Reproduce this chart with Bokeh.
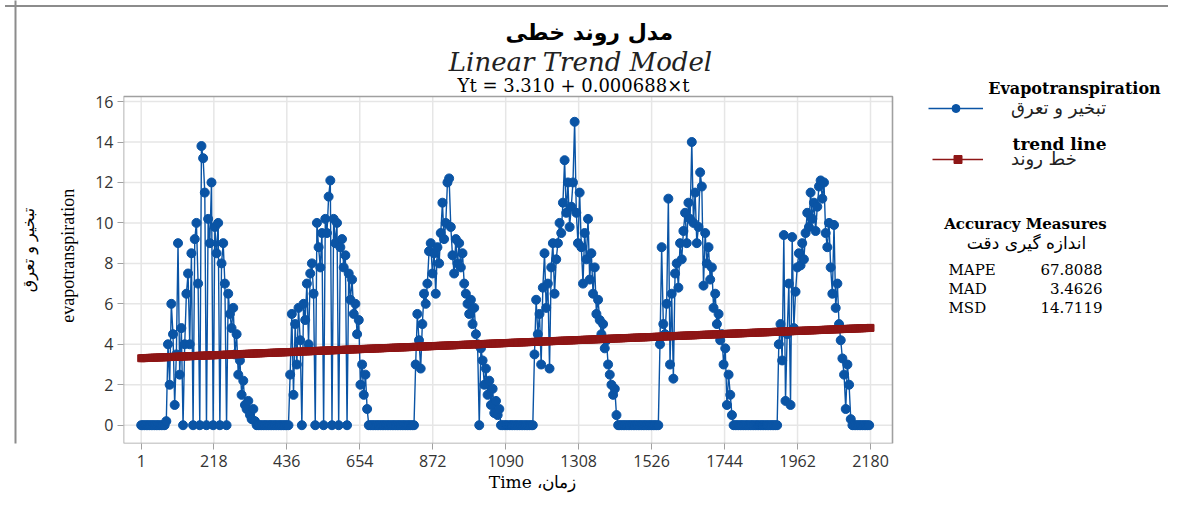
import math
from bokeh.plotting import figure
from bokeh.models import Range1d, Label, Legend, LegendItem, LinearAxis, FixedTicker
from bokeh.embed import file_html
from bokeh.resources import INLINE

day_step = 5
last_day = 2176
season_start = [76, 441, 816, 1166, 1536, 1896]

season1 = [0.2, 4.0, 2.0, 6.0, 4.5, 1.0, 3.5, 9.0, 2.5, 4.8,
           0.0, 4.0, 6.5, 7.5, 4.0, 8.5, 0.0, 9.2, 10.0, 7.0,
           0.0, 13.8, 13.2, 11.5, 0.0, 10.2, 9.0, 12.0, 0.0, 9.8,
           8.5, 10.0, 0.0, 8.0, 9.0, 7.0, 0.0, 6.5, 5.5, 4.8,
           5.8, 3.5, 4.5, 2.5, 3.2, 1.5, 2.2, 1.0, 0.8, 1.2,
           0.5, 0.3, 0.8, 0.2, 0.0]
season2 = [0.0, 2.5, 5.5, 1.5, 5.0, 3.0, 5.8, 4.2, 0.0, 6.0,
           5.2, 7.0, 4.0, 7.5, 8.0, 6.5, 0.0, 10.0, 8.8, 7.8,
           9.5, 0.0, 10.2, 9.5, 11.3, 12.1, 0.0, 10.2, 9.0, 10.0,
           0.0, 8.8, 9.2, 7.8, 8.4, 0.0, 7.5, 6.2, 7.2, 5.5,
           6.0, 4.5, 5.2, 2.0, 3.0, 1.5, 2.5, 0.8, 0.0]
season3 = [0.0, 3.0, 5.5, 4.2, 2.8, 5.0, 6.5, 6.0, 7.0, 8.6,
           9.0, 7.5, 8.5, 6.5, 8.8, 8.0, 9.5, 11.0, 9.2, 10.0,
           12.0, 12.2, 9.8, 8.4, 7.5, 9.2, 8.0, 9.0, 7.8, 8.5,
           7.0, 6.5, 6.0, 5.5, 6.2, 5.0, 5.8, 4.5, 4.0, 0.0,
           3.8, 3.2, 2.0, 2.8, 1.5, 2.2, 1.0, 1.8, 0.6, 1.2,
           0.5, 0.8, 0.0]
season4 = [0.0, 0.0, 3.5, 6.2, 4.5, 5.5, 3.0, 6.8, 8.5, 5.8,
           7.0, 2.8, 7.8, 9.0, 6.5, 8.2, 9.0, 10.0, 9.5, 11.0,
           13.1, 10.5, 12.0, 9.8, 10.8, 12.0, 15.0, 10.5, 9.0, 11.5,
           8.8, 7.0, 9.5, 8.2, 10.2, 7.2, 8.5, 6.5, 7.8, 5.5,
           6.2, 5.2, 4.5, 5.0, 3.8, 4.2, 3.0, 2.5, 2.0, 1.5,
           1.8, 0.5, 0.0]
season5 = [0.0, 0.0, 0.0, 4.0, 8.8, 5.0, 4.5, 6.0, 11.2, 3.0,
           6.5, 2.3, 7.5, 8.0, 6.8, 9.0, 8.2, 9.6, 10.5, 9.0,
           11.0, 10.2, 14.0, 10.0, 11.5, 9.0, 9.8, 12.5, 11.8, 6.9,
           9.5, 8.0, 8.8, 7.2, 7.8, 5.8, 6.5, 5.0, 5.5, 4.2,
           4.5, 3.0, 3.8, 1.0, 2.5, 1.5, 0.5, 0.0]
season6 = [0.0, 0.0, 4.0, 5.0, 3.2, 9.4, 1.2, 4.5, 7.0, 1.0,
           9.3, 4.8, 6.6, 7.8, 8.5, 7.9, 9.0, 8.2, 9.5, 10.5,
           9.8, 11.5, 10.2, 11.0, 9.6, 10.8, 11.8, 12.1, 11.2, 12.0,
           9.5, 8.8, 10.0, 7.8, 6.5, 9.9, 5.8, 7.0, 5.0, 4.2,
           3.3, 2.5, 0.8, 3.0, 2.0, 0.3, 0.0]
seasons = [season1, season2, season3, season4, season5, season6]

x_ticks = [1, 218, 436, 654, 872, 1090, 1308, 1526, 1744, 1962, 2180]
y_ticks = [0, 2, 4, 6, 8, 10, 12, 14, 16]

trend_intercept = 3.310
trend_slope = 0.000688

accuracy_names = ["MAPE", "MAD", "MSD"]
accuracy_values = ["67.8088", "3.4626", "14.7119"]

# off-season days are read as 0
days = list(range(1, last_day + 1, day_step))
evap = [0.0] * len(days)
for start, vals in zip(season_start, seasons):
    i0 = (start - 1) // day_step
    for k, v in enumerate(vals):
        evap[i0 + k] = v
trend_days = days + [2180]
trend_fit = [trend_intercept + trend_slope * d for d in trend_days]

# ---------------- layout ----------------
BLUE = "#0A54A5"
RED = "#8E1616"
GRID = "#E6E6E6"
FRAME = "#A0A0A0"
SERIF = "DejaVu Serif"
NBSP = "\u00a0"
W, H = 1168, 496
L, R, T, B = 123, 892, 96, 443          # visible plot box (px)
XS, XE = -51.9, 2245.7                   # data extent of the plot box
YS, YE = -0.905, 16.25
SX = (R - L) / (XE - XS)
SY = (B - T) / (YE - YS)
XF = XS + (W - L) / SX                   # frame reaches the right edge
YF = YS + B / SY                         # frame reaches the top edge


def dx(px):
    return XS + (px - L) / SX


def dy(py):
    return YS + (B - py) / SY


p = figure(width=W, height=H, x_range=Range1d(XS, XF), y_range=Range1d(YS, YF),
           output_backend="svg", toolbar_location=None,
           min_border_left=L, min_border_right=0, min_border_top=0, min_border_bottom=H - B)
p.background_fill_alpha = 0
p.border_fill_alpha = 0
p.outline_line_color = None
p.xgrid.visible = False
p.ygrid.visible = False
p.styles = {
    "background-color": "white",
    "background-image": "linear-gradient(#8c8c8c, #8c8c8c)",
    "background-position": "5px 5px",
    "background-size": "1200px 2px",
    "background-repeat": "no-repeat",
}

p.xaxis.ticker = x_ticks
p.yaxis.ticker = y_ticks
for ax in (p.xaxis[0], p.yaxis[0]):
    ax.axis_line_color = None
    ax.major_tick_line_color = FRAME
    ax.major_tick_out = 6
    ax.major_tick_in = 0
    ax.minor_tick_line_color = None
    ax.major_label_text_font = "Open Sans"
    ax.major_label_text_font_size = "16px"
    ax.major_label_text_color = "#333333"
    ax.axis_label_text_font_style = "normal"
    ax.axis_label_text_color = "black"
p.xaxis.major_label_standoff = 5
p.yaxis.major_label_standoff = 4
# axis titles are centred on the frame; trailing no-break spaces move them to the reference place
p.xaxis.axis_label = "Time ،زمان" + NBSP * 42
p.xaxis.axis_label_text_font = SERIF
p.xaxis.axis_label_text_font_size = "17px"
p.xaxis.axis_label_standoff = 2
p.yaxis.axis_label = "evapotranspiration" + NBSP * 15
p.yaxis.axis_label_text_font = "Liberation Serif"
p.yaxis.axis_label_text_font_size = "18px"
p.yaxis.axis_label_standoff = 14

fa_axis = LinearAxis(ticker=FixedTicker(ticks=[]), axis_line_color=None,
                     major_tick_out=0, major_tick_in=0, minor_tick_line_color=None,
                     major_label_standoff=0, axis_label="تبخیر و تعرق" + NBSP * 11,
                     axis_label_text_font="DejaVu Sans", axis_label_text_font_style="normal",
                     axis_label_text_font_size="16px", axis_label_text_color="black",
                     axis_label_standoff=18)
p.add_layout(fa_axis, "left")
# outermost empty axis whose rule plays the picture's left border line
edge_axis = LinearAxis(ticker=FixedTicker(ticks=[]), axis_line_color="#8c8c8c",
                       axis_line_width=2, major_tick_out=0, major_tick_in=0,
                       minor_tick_line_color=None, major_label_standoff=0)
p.add_layout(edge_axis, "left")

# grid and plot box drawn only over the plot area
p.segment(x0=x_ticks, y0=[YS] * len(x_ticks), x1=x_ticks, y1=[YE] * len(x_ticks),
          line_color=GRID, line_width=1.5)
p.segment(x0=[XS] * len(y_ticks), y0=y_ticks, x1=[XE] * len(y_ticks), y1=y_ticks,
          line_color=GRID, line_width=1.5)
p.quad(left=[XS], right=[XE], bottom=[YS], top=[YE], fill_color="white", fill_alpha=0,
       line_color=FRAME, line_width=1.6)

r_line = p.line(days, evap, line_color=BLUE, line_width=1.4)
r_pts = p.scatter(days, evap, marker="circle", size=9, fill_color=BLUE, line_color=BLUE)
t_line = p.line(trend_days, trend_fit, line_color=RED, line_width=1.5)
t_pts = p.scatter(trend_days, trend_fit, marker="square", size=7, fill_color=RED, line_color=RED)

leg_common = dict(border_line_color=None, background_fill_alpha=0, padding=0, margin=0,
                  label_text_font="DejaVu Sans", label_text_font_size="18px",
                  label_text_color="#222222", label_standoff=28, glyph_height=20,
                  label_height=20)
legend1 = Legend(items=[LegendItem(label="تبخیر و تعرق", renderers=[r_line, r_pts])],
                 location=(928 - L, B - 118), glyph_width=55, **leg_common)
legend2 = Legend(items=[LegendItem(label="خط روند", renderers=[t_line, t_pts])],
                 location=(932 - L, B - 169), glyph_width=51, **leg_common)
p.add_layout(legend1)
p.add_layout(legend2)


def add_text(px, py, text, font=SERIF, size="16px", style="normal",
             align="center", color="black"):
    p.add_layout(Label(x=dx(px), y=dy(py), text=text, text_font=font, text_font_size=size,
                       text_font_style=style, text_align=align, text_baseline="middle",
                       text_color=color))


# titles
add_text(505, 32, "مدل روند خطی", font="DejaVu Sans", size="22px", style="bold", align="left")
add_text(580, 61, "Linear Trend Model", size="26px", style="italic", color="#222222")
add_text(573, 85, "Yt = 3.310 + 0.000688×t", size="18px")

# legend headings and accuracy box
add_text(1074, 88, "Evapotranspiration", size="16px", style="bold")
add_text(1059, 143, "trend line", size="17px", style="bold")
add_text(1025, 223, "Accuracy Measures", size="15px", style="bold")
add_text(1026, 242, "اندازه گیری دقت", font="DejaVu Sans", size="17px")
for k, (nm, val) in enumerate(zip(accuracy_names, accuracy_values)):
    add_text(948, 269 + 19 * k, nm, size="15px", align="left")
    add_text(1102, 269 + 19 * k, val, size="15px", align="right")

open("out.html", "w").write(file_html(p, INLINE))
